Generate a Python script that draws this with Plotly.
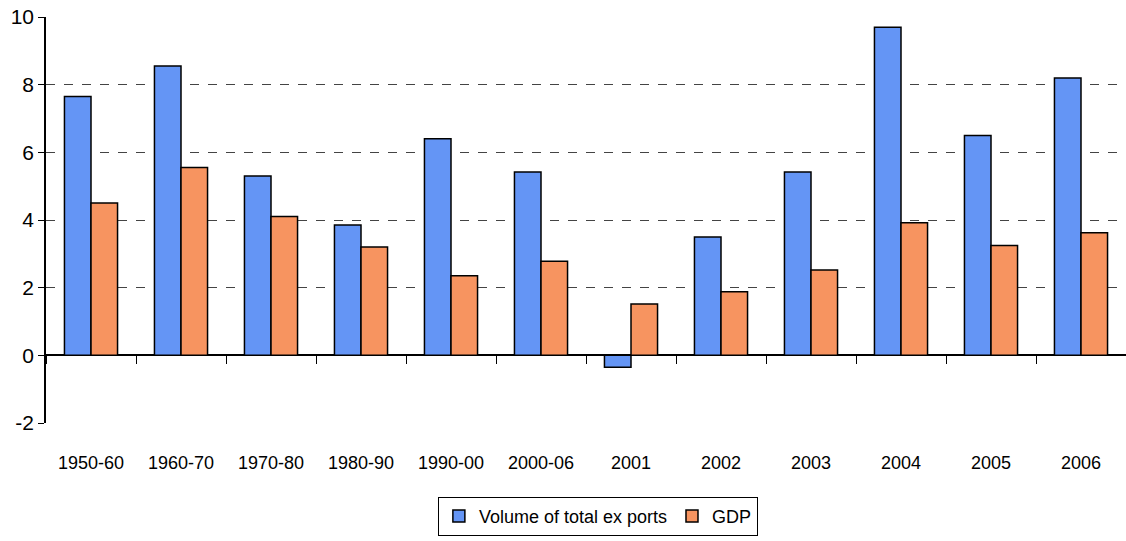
import plotly.graph_objects as go

categories = ["1950-60", "1960-70", "1970-80", "1980-90", "1990-00", "2000-06",
              "2001", "2002", "2003", "2004", "2005", "2006"]
exports = [7.65, 8.55, 5.3, 3.85, 6.4, 5.42, -0.35, 3.5, 5.42, 9.7, 6.5, 8.2]
gdp = [4.5, 5.55, 4.1, 3.2, 2.35, 2.78, 1.52, 1.88, 2.52, 3.92, 3.25, 3.62]
y_ticks = [-2, 0, 2, 4, 6, 8, 10]
y_tick_labels = ["-2", "0", "2", "4", "6", "8", "10"]

xfont = dict(family="Liberation Sans, Arial, sans-serif", size=18, color="black")
yfont = dict(family="Liberation Sans, Arial, sans-serif", size=21, color="black")

fig = go.Figure()
fig.add_trace(go.Bar(x=categories, y=exports, name="Volume of total ex ports",
                     marker=dict(color="#6495F5", line=dict(color="black", width=1.5))))
fig.add_trace(go.Bar(x=categories, y=gdp, name="GDP",
                     marker=dict(color="#F79460", line=dict(color="black", width=1.5))))
# invisible trace to carry the category tick marks on the zero line
fig.add_trace(go.Scatter(x=categories, y=[0] * len(categories), xaxis="x2",
                         mode="markers", marker=dict(opacity=0, size=1), showlegend=False,
                         hoverinfo="skip"))

n = len(categories)
fig.update_layout(
    width=1126, height=541,
    margin=dict(l=46, r=0, t=17, b=118),
    paper_bgcolor="white", plot_bgcolor="white",
    font=xfont,
    barmode="group", bargap=0.41, bargroupgap=0,
    showlegend=True,
    legend=dict(orientation="h", x=0.511, xanchor="center", y=-0.182, yanchor="top",
                bordercolor="black", borderwidth=1, font=xfont,
                itemwidth=30, tracegroupgap=0),
    xaxis=dict(type="category", showgrid=False, ticks="", showline=False,
               ticklabelstandoff=27, zeroline=False, range=[-0.5, n - 0.5],
               tickfont=xfont),
    xaxis2=dict(type="category", overlaying="x", anchor="free", position=2 / 12,
                side="bottom", tickson="boundaries", ticks="outside", ticklen=8,
                tickcolor="black", tickwidth=1, showticklabels=False,
                showgrid=False, showline=False, range=[-0.5, n - 0.5]),
    yaxis=dict(range=[-2, 10], tickvals=y_ticks, ticktext=y_tick_labels,
               showgrid=True, griddash="dash",
               gridcolor="#444", gridwidth=1, zeroline=True, zerolinecolor="black",
               zerolinewidth=1.5, showline=True, linecolor="black", linewidth=1.5,
               ticks="outside", ticklen=6, tickcolor="black",
               tickfont=yfont),
)

fig.write_html("out.html")
